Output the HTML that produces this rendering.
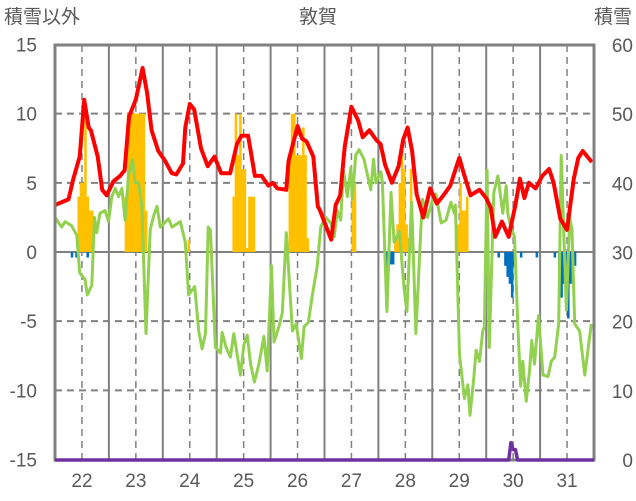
<!DOCTYPE html>
<html><head><meta charset="utf-8">
<style>
html,body{margin:0;padding:0;background:#fff;}
svg{display:block;font-family:"Liberation Sans","Noto Sans CJK JP",sans-serif;}
</style></head>
<body>
<svg id="chart" width="636" height="501" viewBox="0 0 636 501" xmlns="http://www.w3.org/2000/svg">
<rect width="636" height="501" fill="#fff"/>
<text x="4" y="23" font-size="19" fill="#595959">積雪以外</text>
<text x="318" y="23" font-size="19" fill="#595959" text-anchor="middle">敦賀</text>
<text x="632" y="23" font-size="19" fill="#595959" text-anchor="end">積雪</text>
<g id="grid"></g>
<g id="bars"></g>
<g id="lines"></g>
<g id="axes"></g>
<g id="topg"></g>
</svg>
<script>
const dayLabels=[22,23,24,25,26,27,28,29,30,31];
const leftTicks=[15,10,5,0,-5,-10,-15];
const rightTicks=[60,50,40,30,20,10,0];
const redHours=[0,6,8,11,13,15,16,19,21,23,26,29,31,33,36,39,41,43,46,49,52,54,57,58,60,62,65,68,71,74,78,81,83,86,89,92,95,97,99,103,104,108,110,112,115,117,118,123,125,127,129,132,135,137,140,143,145,147,150,153,155,157,159,161,164,167,170,173,176,179,180,182,185,189,192,194,196,199,202,205,207,209,211,214,217,220,222,225,228,231,233,235,239];
const redValues=[3.4,3.8,5.2,6.9,11.0,9.0,8.8,6.9,4.5,4.1,5.1,5.5,5.9,9.8,11.0,13.3,11.5,8.8,7.3,6.6,5.7,5.6,6.4,9.0,10.7,10.3,7.5,6.2,6.9,5.7,5.7,7.8,8.4,8.4,5.5,5.5,4.8,5.0,4.6,4.5,6.6,9.1,8.2,8.0,6.9,3.3,3.0,0.9,3.4,4.1,7.6,10.5,9.5,8.3,8.8,8.1,7.8,6.3,5.0,6.2,8.1,9.0,7.3,4.2,2.5,4.6,3.5,4.1,4.8,6.3,6.8,5.7,4.1,4.5,3.9,3.2,1.1,2.2,1.1,3.4,5.3,3.9,5.0,4.6,5.5,6.0,5.0,2.4,1.6,5.3,6.8,7.3,6.5];
const greenHours=[0,3,4.5,7.4,9.7,11,13.4,14.4,16.4,17.6,18.6,20,22.3,23.8,25.3,26.8,28.3,29.8,31.2,32.7,34.5,35.7,37.2,38.7,40.5,42.4,43.9,45.4,46.9,50.6,52.1,55.8,58,59.5,62.2,64,65.5,67,68.2,69.2,71.4,73.7,74.4,76.2,78.1,79.6,82.6,84.1,85.6,87.1,88.8,90.8,93,94.5,96.4,97.5,99.7,101.2,103,105.7,107.4,109.7,110.9,112.8,114.6,116.8,118.3,120.5,122.8,124.3,125.7,127.2,128.4,130.2,131.7,132.4,133.9,135.4,137.6,140.6,141.8,142.9,145.1,145.8,147.8,149.6,151,153.3,155.5,156.7,158.8,160.7,163,163.7,165.9,168.2,169.6,171.9,174.1,176.3,177.8,178.3,180.1,182.3,183.8,184.8,186.5,187.5,189,190.5,191.2,192.4,193.4,195.4,197.2,199.4,200.9,201.6,203.1,204.6,206.1,207.3,208.3,209.8,211.3,212.3,213.5,215.3,217.3,219.5,221,222.5,224.3,225.4,227.7,229.2,230.2,231.4,233.6,235.9,238.8];
const greenValues=[2.5,1.8,2.2,1.9,1.2,-1.5,-2.0,-3.1,-2.4,2.5,1.4,2.8,3.0,2.2,4.0,4.6,4.0,4.6,2.3,5.5,6.7,5.0,5.0,3.3,-5.9,1.6,2.6,3.3,1.8,2.4,1.8,2.2,0.7,-3.1,-2.5,-5.7,-7.0,-5.9,1.8,1.6,-6.9,-7.3,-5.8,-6.9,-7.6,-5.9,-8.9,-6.7,-6.0,-8.1,-9.4,-8.1,-6.1,-8.6,-1.0,-6.5,-5.4,-4.4,1.4,-5.7,-5.2,-7.7,-5.4,-5.1,-3.1,-1.0,1.8,2.5,2.1,1.1,3.0,2.3,5.9,4.0,6.1,3.8,7.0,7.4,6.7,4.5,6.7,5.0,5.8,5.0,-4.3,4.3,0.7,1.5,-2.7,-4.3,3.6,-5.9,2.0,3.8,2.5,3.8,4.2,2.1,2.3,3.6,2.8,3.4,-7.4,-10.6,-9.6,-11.8,-9.1,-7.1,-7.9,-5.7,-5.4,5.9,-6.9,4.3,5.5,2.8,4.8,2.8,1.7,1.1,-5.4,-9.7,-7.9,-10.8,-8.6,-6.4,-8.1,-4.6,-8.9,-9.0,-7.9,-7.6,-5.2,7.0,-4.2,2.5,1.6,-5.2,-5.7,-8.9,-5.2,-3.1];
const precipHours=[10,11,12,13,14,15,16,31,32,33,34,35,36,37,38,39,40,59,79,80,81,82,83,84,85,86,87,88,104,105,106,107,108,109,110,111,112,132,133,151,152,153,154,155,156,157,158,178,179,180,181,182,183];
const precipValues=[4,5,5,10,4,3,3,4,10,10,10,10,10,10,10,10,3,0.9,4,10,7,10,6,6,0.3,4,4,4,7,10,10,7,7,7,9,7,1,5,5,1,2,5,8,6,2,1,6,2,2,5,3,3,4];
const negHours=[7,9,14,147,148,149,150,197,200,201,202,203,204,207,214,222,224,225,226,227,228,229,231];
const negValues=[-0.4,-0.4,-0.4,-1.5,-0.9,-0.9,-0.9,-0.4,-1.0,-1.8,-2.3,-3.3,-1.0,-0.4,-0.4,-0.4,-1.0,-3.3,-2.3,-3.7,-4.8,-2.3,-1.0];
const snowHours=[0,202,203,204,205,206,240];
const snowValues=[0,0,2.5,1.5,1.5,0,0];

const X0=55,X1=594,YT=45,YB=460;
const xH=h=>X0+h*(X1-X0)/240;
const yL=v=>252-v*(460-45)/30;
const yR=v=>460-v*(460-45)/60;
const NS="http://www.w3.org/2000/svg";
function mk(tag,attrs,parent){const e=document.createElementNS(NS,tag);for(const k in attrs)e.setAttribute(k,attrs[k]);parent.appendChild(e);return e;}
const gridG=document.getElementById('grid'),barsG=document.getElementById('bars'),linesG=document.getElementById('lines'),axesG=document.getElementById('axes'),topG=document.getElementById('topg');
leftTicks.forEach(t=>{if(t===15||t===-15)return;const l=mk('line',{x1:X0,x2:X1,y1:yL(t),y2:yL(t),stroke:'#808080','stroke-width':2,'stroke-dasharray':t===0?'none':'7,5'},gridG);

});
for(let d=0;d<10;d++){
 if(d>0){const s=mk('line',{x1:xH(d*24),x2:xH(d*24),y1:YT,y2:YB,stroke:'#808080','stroke-width':2},gridG);
 
 }
 const n=mk('line',{x1:xH(d*24+12),x2:xH(d*24+12),y1:YT,y2:YB,stroke:'#808080','stroke-width':1.5,'stroke-dasharray':'7,5'},gridG);
 
 
}
const bw=(X1-X0)/240;
precipHours.forEach((h,i)=>{const v=precipValues[i];const r=mk('rect',{x:xH(h),y:yL(v),width:bw+0.3,height:yL(0)-yL(v),fill:'#FFC000'},barsG);

});
negHours.forEach((h,i)=>{const v=negValues[i];const r=mk('rect',{x:xH(h),y:yL(0),width:bw+0.3,height:yL(v)-yL(0),fill:'#0070C0'},barsG);

});
function pl(hs,vs,yf,color,w,name,parent){const p=hs.map((h,i)=>xH(h).toFixed(1)+','+yf(vs[i]).toFixed(1)).join(' ');
const e=mk('polyline',{points:p,fill:'none',stroke:color,'stroke-width':w,'stroke-linejoin':'round'},parent);

}
pl(greenHours,greenValues,yL,'#92D050',3,'green-series-line',linesG);
pl(redHours,redValues,yL,'#FF0000',4,'temperature-line',linesG);
const fr=mk('rect',{x:X0,y:YT,width:X1-X0,height:YB-YT,fill:'none',stroke:'#808080','stroke-width':3},axesG);


pl(snowHours,snowValues,yR,'#7030A0',3.5,'snow-depth-line',topG);
leftTicks.forEach(t=>{const e=mk('text',{x:37,y:yL(t)+7,'font-size':19,fill:'#595959','text-anchor':'end'},axesG);e.textContent=t;

});
rightTicks.forEach(t=>{const e=mk('text',{x:633,y:yR(t)+7,'font-size':19,fill:'#595959','text-anchor':'end'},axesG);e.textContent=t;

});
dayLabels.forEach((d,i)=>{const e=mk('text',{x:xH(i*24+12),y:487,'font-size':19,fill:'#595959','text-anchor':'middle'},axesG);e.textContent=d;

});
</script>
</body></html>
